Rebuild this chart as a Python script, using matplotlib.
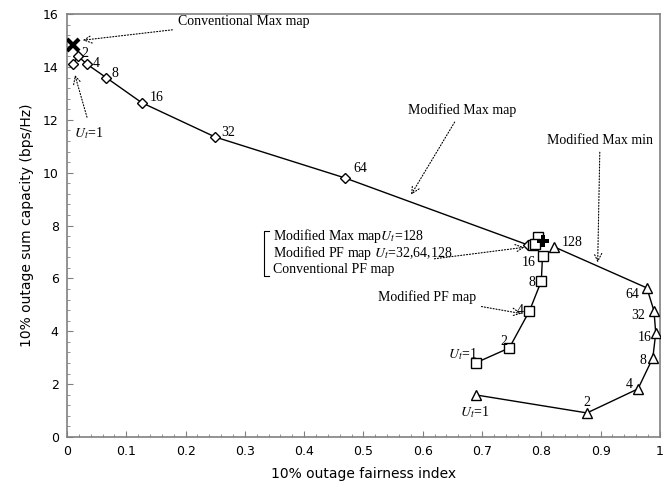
import matplotlib
matplotlib.use('Agg')
import matplotlib.pyplot as plt
from matplotlib.ticker import MultipleLocator

plt.rcParams['mathtext.fontset'] = 'stix'

# Modified Max map (U_t = 1,2,4,...,128)
max_x = [0.010, 0.019, 0.034, 0.066, 0.126, 0.250, 0.469, 0.777]
max_y = [14.13, 14.40, 14.10, 13.60, 12.65, 11.35, 9.80, 7.27]
# Modified PF map
pf_x = [0.689, 0.746, 0.780, 0.800, 0.802, 0.786, 0.795, 0.790]
pf_y = [2.80, 3.37, 4.77, 5.90, 6.85, 7.25, 7.55, 7.30]
# Modified Max min
mm_x = [0.690, 0.877, 0.963, 0.988, 0.993, 0.990, 0.978, 0.822]
mm_y = [1.59, 0.91, 1.82, 2.99, 3.93, 4.77, 5.64, 7.19]
# Conventional schemes
conv_max = (0.010, 14.85)
conv_pf = (0.803, 7.42)

serif = 'Liberation Serif'
fs = 10

fig = plt.figure(figsize=(6.72, 4.87), dpi=100)
ax = fig.add_axes([0.0997, 0.1027, 0.8823, 0.8683])

ax.plot(max_x, max_y, 'k-', lw=1, marker='D', ms=5, mfc='white', mec='black', zorder=3)
ax.plot(pf_x[:5], pf_y[:5], 'k-', lw=1, zorder=2)
ax.plot(pf_x, pf_y, ls='none', marker='s', ms=6.5, mfc='white', mec='black', zorder=3)
ax.plot(mm_x, mm_y, 'k-', lw=1, marker='^', ms=7, mfc='white', mec='black', zorder=3)
ax.plot(*conv_max, marker='x', ms=9, mew=3, color='black', zorder=4)
ax.plot(*conv_pf, marker='P', ms=8, color='black', mew=0, zorder=4)

# point labels
max_lbl = [('2', 0.030, 14.52), ('4', 0.050, 14.13), ('8', 0.081, 13.77),
           ('16', 0.152, 12.86), ('32', 0.272, 11.53), ('64', 0.494, 10.17),
           ('128', 0.852, 7.37)]
pf_lbl = [('16', 0.778, 6.62), ('8', 0.784, 5.86), ('4', 0.764, 4.80), ('2', 0.737, 3.60)]
mm_lbl = [('2', 0.877, 1.32), ('4', 0.949, 1.97), ('8', 0.971, 2.91), ('16', 0.974, 3.78),
          ('32', 0.963, 4.61), ('64', 0.953, 5.41)]
for t, x, y in max_lbl + pf_lbl + mm_lbl:
    ax.text(x, y, t, ha='center', va='center', fontsize=fs, family=serif)

ax.text(0.036, 11.5, r'$U_t$=1', ha='center', va='center', fontsize=fs, family=serif)
ax.text(0.668, 3.14, r'$U_t$=1', ha='center', va='center', fontsize=fs, family=serif)
ax.text(0.688, 0.95, r'$U_t$=1', ha='center', va='center', fontsize=fs, family=serif)

arr = dict(arrowstyle='->', ls=':', lw=0.8, color='black', mutation_scale=14)
ax.annotate('Conventional Max map', xy=(0.022, 15.0), xytext=(0.187, 15.72),
            ha='left', va='center', fontsize=fs, family=serif, arrowprops=arr)
ax.annotate('', xy=(0.012, 13.8), xytext=(0.035, 12.0), arrowprops=arr)
ax.annotate('Modified Max map', xy=(0.578, 9.08), xytext=(0.666, 12.37),
            ha='center', va='center', fontsize=fs, family=serif, arrowprops=arr)
ax.annotate('Modified Max min', xy=(0.895, 6.5), xytext=(0.899, 11.23),
            ha='center', va='center', fontsize=fs, family=serif, arrowprops=arr)
ax.annotate('Modified PF map', xy=(0.771, 4.65), xytext=(0.607, 5.3),
            ha='center', va='center', fontsize=fs, family=serif, arrowprops=arr)
ax.text(0.347, 7.6, r'Modified Max map$U_t$=128', ha='left', va='center', fontsize=fs, family=serif)
ax.text(0.347, 6.96, r'Modified PF map $U_t$=32,64,128', ha='left', va='center', fontsize=fs, family=serif)
ax.text(0.347, 6.35, 'Conventional PF map', ha='left', va='center', fontsize=fs, family=serif)
ax.plot([0.340, 0.332, 0.332, 0.340], [7.79, 7.79, 6.09, 6.09], color='black', lw=0.8)
ax.annotate('', xy=(0.776, 7.19), xytext=(0.615, 6.73), arrowprops=arr)

ax.set_xlim(0, 1)
ax.set_ylim(0, 16)
ax.xaxis.set_major_locator(MultipleLocator(0.1))
ax.xaxis.set_minor_locator(MultipleLocator(0.02))
ax.yaxis.set_major_locator(MultipleLocator(2))
ax.yaxis.set_minor_locator(MultipleLocator(0.4))
ax.set_xticklabels([('%g' % v) for v in ax.get_xticks()])
ax.tick_params(which='both', direction='in', top=False, right=False, colors='#808080',
               labelcolor='black', labelsize=9)
ax.tick_params(which='major', length=4, pad=6)
ax.tick_params(which='minor', length=2.5)
for s in ax.spines.values():
    s.set_color('#808080')
    s.set_linewidth(1.2)

ax.set_xlabel('10% outage fairness index', fontsize=10, labelpad=6)
ax.set_ylabel('10% outage sum capacity (bps/Hz)', fontsize=10, labelpad=6)

fig.savefig('out.png', dpi=100)
